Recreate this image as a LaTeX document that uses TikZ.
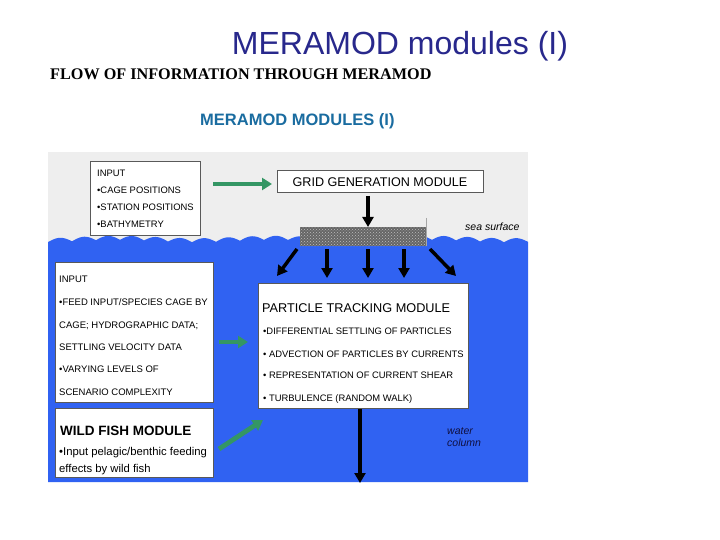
\documentclass[tikz,border=0pt]{standalone}
\usepackage{fontspec}
\setmainfont{Liberation Sans}
\newfontfamily\headserif{Liberation Serif}
\usetikzlibrary{arrows.meta,patterns}

\definecolor{seablue}{RGB}{48,98,242}
\definecolor{skygray}{RGB}{238,238,238}
\definecolor{flowgreen}{RGB}{52,150,100}
\definecolor{titlenavy}{RGB}{40,40,140}
\definecolor{headteal}{RGB}{26,108,160}
\definecolor{inknavy}{RGB}{16,16,64}

\tikzset{
  module/.style={draw=black!65, line width=0.6pt, fill=white, inner sep=0pt, anchor=north west},
  boxtext/.style={anchor=base west, inner sep=0pt, font=\fontsize{9.4}{11}\selectfont},
  boxhead/.style={anchor=base west, inner sep=0pt, font=\fontsize{12.7}{14}\selectfont},
  seanote/.style={anchor=base west, inner sep=0pt, font=\fontsize{10.5}{12}\selectfont\itshape},
  blackarrow/.style={line width=3.5pt, -{Triangle[width=11pt,length=10pt]}},
  greenarrow/.style={flowgreen, line width=4.8pt, -{Triangle[width=12pt,length=10pt]}}
}

\begin{document}
\begin{tikzpicture}[x=1pt, y=-1pt]
    \useasboundingbox (0,0) rectangle (720,540);
    \fill[white] (0,0) rectangle (720,540);

    % headings
    \node[anchor=base, inner sep=0pt, text=titlenavy, font=\fontsize{32}{36}\selectfont]
        (title) at (400,55) {MERAMOD modules (I)};
    \node[anchor=base west, inner sep=0pt, font=\fontsize{16.2}{20}\selectfont\headserif\bfseries]
        (flowhead) at (50,80) {FLOW OF INFORMATION THROUGH MERAMOD};
    \node[anchor=base west, inner sep=0pt, text=headteal, font=\fontsize{16.5}{18}\selectfont\bfseries]
        (subhead) at (200,126) {MERAMOD MODULES (I)};

    % sky and sea
    \fill[skygray] (48,152) rectangle (528,482);
    \fill[seablue] plot[smooth, domain=48:528, samples=241]
        (\x,{241-4*abs(sin(7.5*\x))+1.2*sin(2.3*\x)}) -- (528,482) -- (48,482) -- cycle;

    % top input box
    \node[module, minimum width=110, minimum height=74] (inA) at (90,161) {};
    \foreach \t [count=\i] in {INPUT, {\textbullet CAGE POSITIONS}, {\textbullet STATION POSITIONS}, {\textbullet BATHYMETRY}}
        \node[boxtext] (inA\i) at (97,{177+17*(\i-1)}) {\t};

    % grid generation module
    \node[module, minimum width=206, minimum height=22] (grid) at (277,170) {};
    \node[anchor=base, inner sep=0pt, font=\fontsize{12.6}{14}\selectfont] (gridtxt) at (380,187) {GRID GENERATION MODULE};

    % grid mesh at the sea surface
    \draw[black!35] (426,218) -- (426,246);
    \node[anchor=north west, inner sep=0pt, minimum width=126, minimum height=19,
          fill=black!60, postaction={pattern=crosshatch dots, pattern color=black!25}] (mesh) at (300,227) {};
    \node[seanote] (seasurf) at (465,230) {sea surface};

    % lower input box
    \node[module, minimum width=158, minimum height=140] (inB) at (55,262) {};
    \foreach \t/\yy [count=\i] in {INPUT/282, {\textbullet FEED INPUT/SPECIES CAGE BY}/305,
            {CAGE; HYDROGRAPHIC DATA;}/328, {SETTLING VELOCITY DATA}/350,
            {\textbullet VARYING LEVELS OF}/372, {SCENARIO COMPLEXITY}/395}
        \node[boxtext, font=\fontsize{9.5}{11}\selectfont] (inB\i) at (59,\yy) {\t};

    % particle tracking module
    \node[module, minimum width=210, minimum height=125] (track) at (258,283) {};
    \node[boxhead] (tracktitle) at (262,312) {PARTICLE TRACKING MODULE};
    \foreach \t/\yy [count=\i] in {{\textbullet DIFFERENTIAL SETTLING OF PARTICLES}/334,
            {\textbullet\ ADVECTION OF PARTICLES BY CURRENTS}/357,
            {\textbullet\ REPRESENTATION OF CURRENT SHEAR}/378,
            {\textbullet\ TURBULENCE (RANDOM WALK)}/401}
        \node[boxtext] (track\i) at (263,\yy) {\t};

    % wild fish module
    \node[module, minimum width=158, minimum height=69] (wild) at (55,408) {};
    \node[boxhead, font=\fontsize{13.5}{15}\selectfont\bfseries] (wildtitle) at (60,435) {WILD FISH MODULE};
    \node[boxtext, font=\fontsize{11.3}{13}\selectfont] (wild1) at (59,455) {\textbullet Input pelagic/benthic feeding};
    \node[boxtext, font=\fontsize{11.3}{13}\selectfont] (wild2) at (59,472) {effects by wild fish};

    \node[seanote, text=inknavy] (water1) at (447,434) {water};
    \node[seanote, text=inknavy] (water2) at (447,446) {column};

    % flow arrows
    \coordinate (flowA1) at (213,184);
    \coordinate (flowA2) at (272,184);
    \draw[greenarrow] (flowA1) -- (flowA2);
    \coordinate (flowB1) at (219,342);
    \coordinate (flowB2) at (248,342);
    \draw[greenarrow] (flowB1) -- (flowB2);
    \coordinate (flowC1) at (219,449);
    \coordinate (flowC2) at (263,420);
    \draw[greenarrow] (flowC1) -- (flowC2);

    \coordinate (gridout) at (368,196);
    \draw[blackarrow] (gridout) -- (gridout |- mesh.north);
    \foreach \sx/\ex/\ey [count=\i] in {297/277/276, 327/327/278, 368/368/278, 404/404/278, 430/456/276} {
        \coordinate (rise\i) at (\sx,249);
        \coordinate (drop\i) at (\ex,\ey);
        \draw[blackarrow] (rise\i) -- (drop\i);
    }
    \coordinate (sink) at (360,483);
    \draw[blackarrow] (track.south -| sink) -- (sink);
\end{tikzpicture}
\end{document}
